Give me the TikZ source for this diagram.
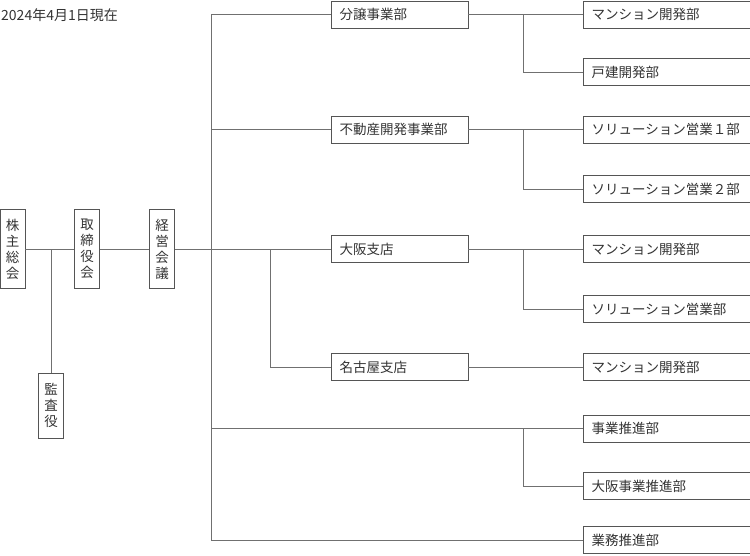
\documentclass[tikz,border=0pt]{standalone}
\usepackage{fontspec}
\setmainfont{Noto Sans CJK JP}
\usetikzlibrary{positioning}
\tikzset{>=latex}
\definecolor{boxline}{HTML}{555555}
\definecolor{linkline}{HTML}{707070}
\definecolor{ink}{HTML}{333333}
\tikzset{
  tate/.style={draw=boxline, minimum width=25pt, inner sep=0pt, align=center, text=ink, font=\fontsize{13.5}{16}\selectfont},
  bu/.style={draw=boxline, anchor=west, minimum height=27pt, inner xsep=9pt, inner ysep=0pt, align=left, text=ink, font=\fontsize{13.5}{16}\selectfont},
  bu2/.style={bu, text width=119pt},
  bu3/.style={bu, text width=149pt},
  link/.style={draw=linkline, line width=0.8pt}
}

\begin{document}
\begin{tikzpicture}[x=1pt,y=-1pt]
  \useasboundingbox (0,0) rectangle (750,555);
  \node[anchor=west, inner sep=0pt, text=ink, font=\fontsize{14}{16}\selectfont] (date) at (1,15) {2024年4月1日現在};

  % top level
  \node[tate, minimum height=79pt] (n0) at (12.5,249) {株\\主\\総\\会};
  \node[tate, minimum height=79pt, right of=n0, node distance=74.5pt] (n1) {取\\締\\役\\会};
  \node[tate, minimum height=79pt, right of=n1, node distance=75pt] (n2) {経\\営\\会\\議};
  \node[tate, minimum height=65pt] (kansa) at (51,405.5) {監\\査\\役};

  % divisions / branches
  \node[bu2] (bunjo) at (330.5,14.5) {分譲事業部};
  \node[bu2] (fudosan) at (330.5,129.5) {不動産開発事業部};
  \node[bu2] (osaka) at (330.5,249) {大阪支店};
  \node[bu2] (nagoya) at (330.5,367) {名古屋支店};

  % departments
  \node[bu3] (m1) at (582.5,14.5) {マンション開発部};
  \node[bu3] (kodate) at (582.5,72) {戸建開発部};
  \node[bu3] (sol1) at (582.5,129.5) {ソリューション営業１部};
  \node[bu3] (sol2) at (582.5,189) {ソリューション営業２部};
  \node[bu3] (m2) at (582.5,249) {マンション開発部};
  \node[bu3] (sol3) at (582.5,309) {ソリューション営業部};
  \node[bu3] (m3) at (582.5,367) {マンション開発部};
  \node[bu3] (suishin) at (582.5,428.5) {事業推進部};
  \node[bu3] (osuishin) at (582.5,486) {大阪事業推進部};
  \node[bu3] (gyomu) at (582.5,540) {業務推進部};

  \coordinate (t) at (211,249);
  \coordinate (t2) at (270,249);
  \coordinate (t3) at (523,428.5);

  \draw[link] (n0) -- (n1);
  \draw[link] (n1) -- (n2);
  \draw[link] (n2) -- (osaka);
  \draw[link] (n0 -| kansa) -- (kansa);
  \draw[link] (bunjo) -| (t) |- (gyomu);
  \draw[link] (t) |- (fudosan);
  \draw[link] (t) |- (suishin);
  \draw[link] (t2) |- (nagoya);
  \draw[link] (t3) |- (osuishin);

  \draw[link] (bunjo) -- coordinate[pos=0.48] (b1) (m1);
  \draw[link] (b1) |- (kodate);
  \draw[link] (fudosan) -- coordinate[pos=0.48] (b2) (sol1);
  \draw[link] (b2) |- (sol2);
  \draw[link] (osaka) -- coordinate[pos=0.48] (b3) (m2);
  \draw[link] (b3) |- (sol3);
  \draw[link] (nagoya) -- (m3);
\end{tikzpicture}
\end{document}
